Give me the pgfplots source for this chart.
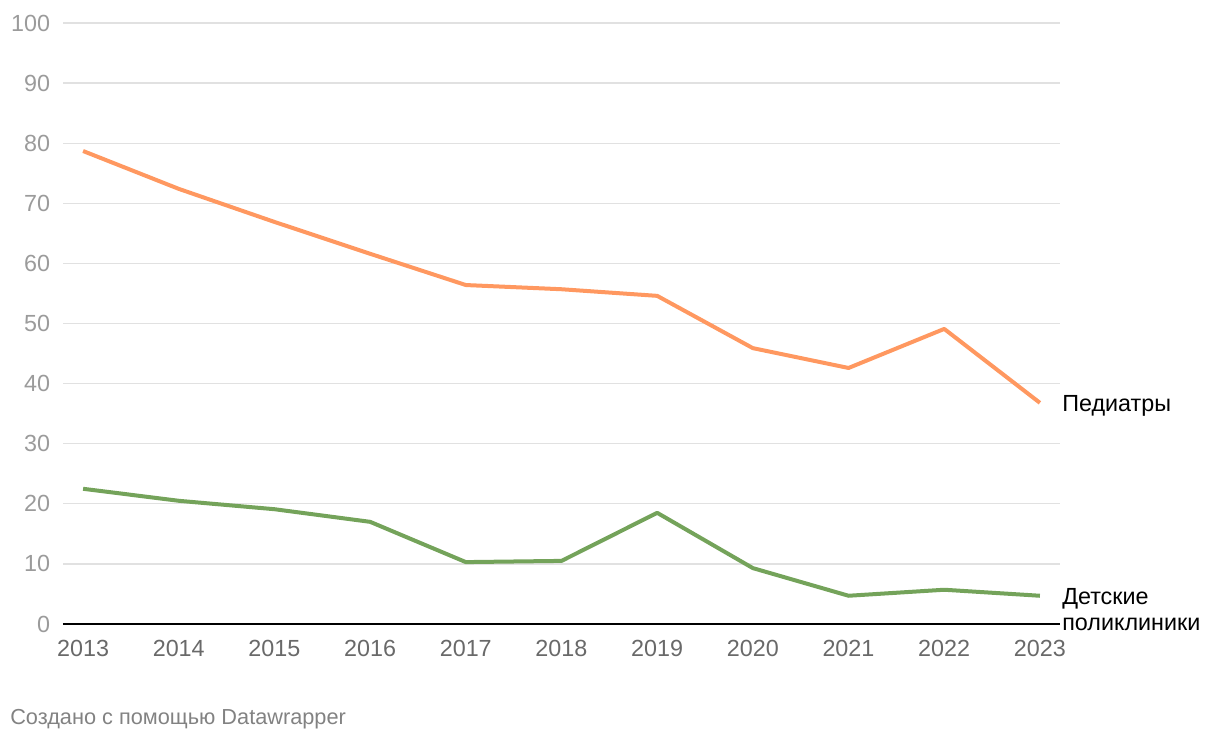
\documentclass[border=0pt]{standalone}
\usepackage{fontspec}
\setmainfont{Liberation Sans}
\usepackage{pgfplots}
\pgfplotsset{compat=1.18}
\definecolor{orangeL}{RGB}{255,152,96}
\definecolor{greenL}{RGB}{116,163,90}
\definecolor{gridc}{RGB}{225,225,225}
\definecolor{ytc}{RGB}{155,155,155}
\definecolor{xtc}{RGB}{105,105,105}
\definecolor{foot}{RGB}{130,130,130}
\begin{document}
\begin{tikzpicture}
\useasboundingbox (-47.25pt,-87pt) rectangle (867.75pt,468pt);
\begin{axis}[
  at={(0,0)}, anchor=south west,
  scale only axis, width=747.75pt, height=450.75pt,
  xmin=2012.79, xmax=2023.21, ymin=0, ymax=100,
  xtick={2013,...,2023}, ytick={0,10,...,100},
  xticklabel={\pgfmathprintnumber[1000 sep={},fixed]{\tick}},
  /pgf/number format/assume math mode=true,
  /pgf/number format/1000 sep={},
  axis line style={draw=none}, tick style={draw=none},
  ymajorgrids, grid style={gridc, line width=0.9pt},
  yticklabel style={font=\fontsize{17.5}{21}\selectfont, text=ytc, anchor=east, inner sep=0pt, xshift=-9.5pt},
  xticklabel style={font=\fontsize{17.5}{21}\selectfont, text=xtc, anchor=north, inner sep=0pt, yshift=-12pt},
  clip=false,
]
\draw[black, line width=1.5pt] (axis cs:2012.79,0) -- (axis cs:2023.21,0);
\addplot[orangeL, line width=3pt, line join=round] coordinates {
(2013,78.7) (2014,72.4) (2015,66.9) (2016,61.6) (2017,56.4) (2018,55.7) (2019,54.6) (2020,45.9) (2021,42.6) (2022,49.1) (2023,36.8)};
\addplot[greenL, line width=3pt, line join=round] coordinates {
(2013,22.5) (2014,20.5) (2015,19.1) (2016,17.0) (2017,10.3) (2018,10.5) (2019,18.5) (2020,9.3) (2021,4.7) (2022,5.7) (2023,4.7)};
\node[anchor=base west, inner sep=0pt, xshift=1.5pt, yshift=-6.3pt, font=\fontsize{17.5}{21}\selectfont] at (axis cs:2023.21,36.8) {Педиатры};
\node[anchor=base west, inner sep=0pt, xshift=1.5pt, yshift=-6.3pt, font=\fontsize{17.5}{21}\selectfont] at (axis cs:2023.21,4.7) {Детские};
\node[anchor=base west, inner sep=0pt, xshift=1.5pt, yshift=-25.8pt, font=\fontsize{17.5}{21}\selectfont] at (axis cs:2023.21,4.7) {поликлиники};
\end{axis}
\node[anchor=base west, inner sep=0pt, text=foot, font=\fontsize{16.3}{20}\selectfont] at (-39.75pt,-75.5pt) {Создано с помощью Datawrapper};
\end{tikzpicture}
\end{document}
